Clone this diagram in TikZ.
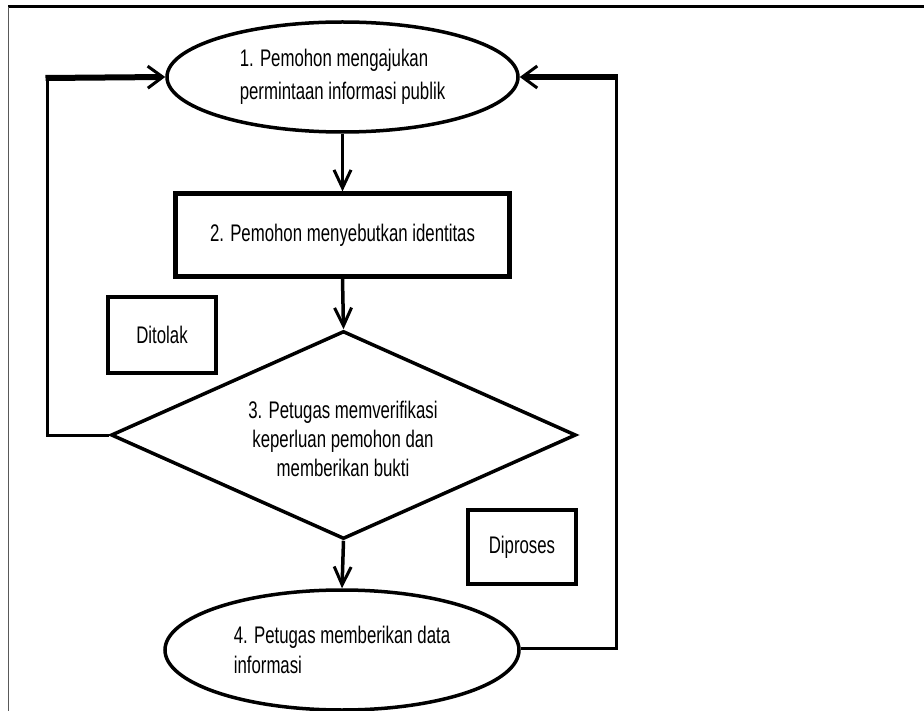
\documentclass[tikz,border=0pt]{standalone}
\usepackage{fontspec}
\setmainfont{Liberation Sans}[FakeStretch=0.7]
\usetikzlibrary{shapes.geometric,arrows.meta}
\tikzset{
  txt/.style={font=\fontsize{24}{29}\selectfont, inner sep=0pt},
  ell/.style={draw, ellipse, line width=3.5pt, inner sep=0pt, align=left, font=\fontsize{24}{33}\selectfont},
  boxthick/.style={draw, rectangle, line width=4.2pt, inner sep=0pt, font=\fontsize{24}{30}\selectfont},
  smallbox/.style={draw, rectangle, line width=3.5pt, inner sep=0pt, font=\fontsize{24}{30}\selectfont},
  dia/.style={draw, diamond, line width=3.5pt, inner sep=0pt},
  tipv/.style={-{Straight Barb[length=18pt,width=17pt,line width=3pt]}},
  tiph/.style={-{Straight Barb[length=15pt,width=22pt,line width=3pt]}},
  vline/.style={line width=3.5pt},
  hthick/.style={line width=6pt},
  thinline/.style={line width=3pt}
}
\begin{document}
\begin{tikzpicture}[x=1pt,y=-1pt]
\useasboundingbox (0,0) rectangle (924,711);
% frame
\draw[line width=3pt] (8,7) -- (924,7);
\draw[line width=1.8pt, black!65] (8.5,7) -- (8.5,711);

% nodes
\node[ell, minimum width=351pt, minimum height=110pt] (e1) at (342.5,77)
  {1. Pemohon mengajukan\\permintaan informasi publik};
\node[boxthick, minimum width=334pt, minimum height=83pt] (r2) at (342.5,235)
  {2. Pemohon menyebutkan identitas};
\node[dia, minimum width=465pt, minimum height=208pt] (d) at (343.5,435) {};
\node[txt, align=center] (dt) at (343,439)
  {3. Petugas memverifikasi\\keperluan pemohon dan\\memberikan bukti};
\node[ell, minimum width=354pt, minimum height=120pt, font=\fontsize{24}{30}\selectfont] (e4) at (342,650)
  {4. Petugas memberikan data\\informasi};
\node[smallbox, minimum width=108pt, minimum height=76pt] (tolak) at (162,335) {Ditolak};
\node[smallbox, minimum width=108pt, minimum height=74pt] (proses) at (522,547) {Diproses};

% vertical flow
\draw[vline, tipv] (e1.south) -- (r2.north);
\draw[vline, tipv] (r2.south) -- (d.north);
\draw[vline, tipv] (d.south) -- (e4.north);

% left loop (Ditolak)
\coordinate (lc1) at (47,435);
\coordinate (lc2) at (47,78);
\draw[thinline] (d.west) -- (lc1) -- (lc2);
\draw[hthick, tiph] ([xshift=-1.5pt]lc2) -- (e1.west);

% right loop (Diproses)
\coordinate (rc1) at (616,648);
\coordinate (rc2) at (616,77);
\draw[thinline] (e4.east |- rc1) -- (rc1) -- (rc2);
\draw[hthick, tiph] ([xshift=1.5pt]rc2) -- (e1.east);
\end{tikzpicture}
\end{document}
